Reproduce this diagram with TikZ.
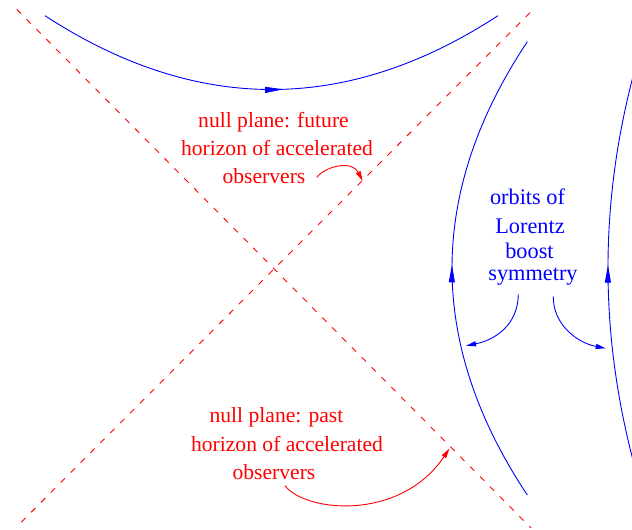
\documentclass[tikz,border=0pt]{standalone}
\usepackage{fontspec}
\setmainfont{Liberation Serif}
\usetikzlibrary{arrows.meta}
\usetikzlibrary{decorations.markings}

\tikzset{midarrow/.style={postaction={decorate},
	decoration={markings, mark=at position #1 with {\arrow{Triangle[length=18pt,width=6pt]}}}}}

\begin{document}
\begin{tikzpicture}[x=1pt, y=-1pt, line width=0.9pt]
		\tikzstyle{horizon}=[draw=red, dash pattern=on 6pt off 8pt]
		\tikzstyle{orbit}=[draw=blue]
		\tikzstyle{redtext}=[text=red, anchor=base, inner sep=0pt, font=\fontsize{21.6}{26}\selectfont]
		\tikzstyle{bluetext}=[text=blue, anchor=base, inner sep=0pt, font=\fontsize{22.3}{26}\selectfont]
		\tikzstyle{pointer}=[-{Triangle[length=10pt,width=5pt]}]

		\useasboundingbox (0,0) rectangle (632,530);
		\clip (0,0) rectangle (632,530);

    % Null planes
		\coordinate (nw) at (16.7,9.3);
		\coordinate (se) at (531,528);
		\coordinate (ne) at (530,12.7);
		\coordinate (sw) at (16.7,526.7);
		\draw[horizon] (nw) -- (se);
		\draw[horizon] (ne) -- (sw);

    % Boost orbits
		\draw[orbit, midarrow=0.524] (45,15.7) .. controls (196,114.1) and (347,114.1) .. (498,15.7);
		\draw[orbit, midarrow=0.508] (527.3,495) .. controls (426.9,343.9) and (426.9,192.8) .. (527.3,41.7);
		\draw[orbit, midarrow=0.507] (650.5,518.3) .. controls (593.8,351.6) and (593.8,185) .. (650.5,18.3);

    % Future horizon label
		\node[redtext](fut1) at (273.5,127){null plane: future};
		\node[redtext](fut2) at (277,155){horizon of accelerated};
		\node[redtext](fut3) at (264,183){observers};

    % Past horizon label
		\node[redtext](past1) at (276.5,422){null plane: past};
		\node[redtext](past2) at (287,451){horizon of accelerated};
		\node[redtext](past3) at (274,479){observers};

    % Orbit label
		\node[bluetext](orb1) at (527.5,204){orbits of};
		\node[bluetext](orb2) at (530,233){Lorentz};
		\node[bluetext](orb3) at (529.5,258){boost};
		\node[bluetext](orb4) at (533,280){symmetry};

    % Pointers
		\coordinate (futfrom) at (316.7,177.3);
		\coordinate (futto) at (362.7,181);
		\coordinate (pastfrom) at (285,485.7);
		\coordinate (pastto) at (449.5,448.5);
		\coordinate (orbfromL) at (518.3,294.3);
		\coordinate (orbtoL) at (466,345.7);
		\coordinate (orbfromR) at (553.3,296.7);
		\coordinate (orbtoR) at (605.7,348.3);

		\draw[pointer, red] (futfrom) .. controls (326,166) and (352,160) .. (futto);
		\draw[pointer, red] (pastfrom) .. controls (305,512) and (400,522) .. (pastto);
		\draw[pointer, blue] (orbfromL) .. controls (518,325) and (495,340) .. (orbtoL);
		\draw[pointer, blue] (orbfromR) .. controls (553,325) and (578,343) .. (orbtoR);
  \end{tikzpicture}
\end{document}
